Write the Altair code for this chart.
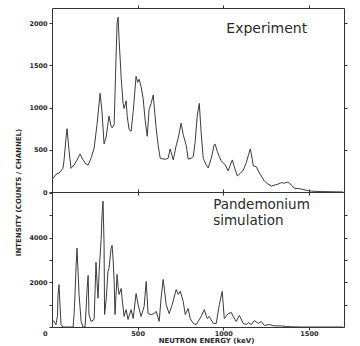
import altair as alt
import pandas as pd

# ---- Experiment spectrum (keV, counts/channel) ----
exp_kev = [0, 6, 23, 41, 64, 70, 82, 88, 99, 111, 129, 146, 164, 181, 199, 211, 228, 246, 263, 281,
           292, 304, 316, 333, 345, 351, 363, 374, 380, 386, 392, 404, 415, 421, 433, 439, 450, 462,
           474, 491, 500, 509, 520, 532, 544, 556, 567, 579, 591, 608, 620, 632, 649, 667, 678, 690,
           708, 725, 737, 754, 766, 784, 795, 813, 825, 836, 848, 860, 871, 883, 901, 912, 930, 947,
           953, 965, 977, 988, 1012, 1029, 1041, 1053, 1064, 1082, 1099, 1117, 1135, 1146, 1158,
           1170, 1175, 1193, 1211, 1228, 1240, 1257, 1281, 1304, 1322, 1339, 1357, 1374, 1386, 1404,
           1415, 1439, 1456, 1485, 1515, 1573, 1700]
exp_counts = [155, 160, 210, 225, 280, 370, 640, 750, 500, 280, 320, 380, 450, 380, 330, 320, 400, 520,
              800, 1170, 950, 570, 650, 900, 780, 760, 800, 1600, 2000, 2070, 1800, 1350, 1050, 990,
              1080, 900, 740, 720, 950, 1370, 1300, 1335, 1250, 1110, 850, 660, 980, 1050, 1150, 760,
              550, 400, 390, 390, 400, 510, 380, 550, 640, 815, 680, 550, 390, 400, 420, 600, 900, 1050,
              700, 400, 320, 285, 400, 560, 565, 480, 420, 370, 320, 250, 320, 380, 300, 190, 220, 260,
              350, 430, 510, 380, 310, 300, 225, 170, 130, 100, 70, 85, 95, 110, 105, 115, 105, 70, 45,
              40, 35, 20, 10, 5, 0]

# ---- Pandemonium simulation spectrum ----
sim_kev = [0, 12, 23, 32, 35, 41, 47, 53, 64, 123, 129, 135, 140, 146, 152, 158, 170, 181, 193, 199,
           205, 211, 216, 228, 246, 251, 257, 263, 269, 275, 287, 292, 298, 304, 307, 316, 327, 333,
           345, 351, 357, 363, 368, 380, 386, 392, 404, 409, 421, 433, 444, 462, 474, 491, 503, 520,
           538, 550, 561, 579, 597, 608, 626, 637, 649, 667, 684, 702, 725, 737, 749, 766, 778, 795,
           807, 825, 842, 871, 889, 906, 918, 942, 959, 977, 994, 1006, 1029, 1047, 1058, 1076, 1094,
           1117, 1135, 1146, 1164, 1181, 1205, 1222, 1240, 1269, 1298, 1339, 1368, 1398, 1456, 1700]
sim_counts = [300, 250, 100, 500, 1400, 1900, 900, 100, 0, 0, 560, 1600, 2600, 3530, 2500, 1460, 250,
              0, 0, 800, 1730, 2310, 560, 250, 340, 1500, 2900, 2000, 1290, 2490, 3930, 5000, 5640,
              3700, 560, 1200, 2490, 2630, 3530, 3660, 3000, 2040, 560, 2360, 1780, 1460, 1730, 1300,
              470, 780, 340, 780, 380, 1500, 1000, 470, 920, 2040, 600, 560, 600, 700, 250, 1290, 2130,
              1000, 600, 1000, 1680, 1460, 1600, 1150, 560, 830, 380, 160, 110, 470, 780, 380, 470, 160,
              160, 1000, 1600, 380, 600, 650, 470, 250, 520, 160, 110, 200, 110, 290, 160, 250, 70, 110,
              50, 50, 20, 10, 0, 0]

x_ticks = [500, 1000, 1500]
exp_y_ticks = [0, 500, 1000, 1500, 2000]
sim_y_ticks = [0, 1000, 2000, 3000, 4000, 5000, 6000]

exp_note = pd.DataFrame({"kev": [1018], "counts": [1880], "label": ["Experiment"]})
sim_note = pd.DataFrame({"kev": [941, 941], "counts": [5270, 4590],
                         "label": ["Pandemonium", "simulation"]})

LINE = "#3c3c3c"
INK = "#2a2a2a"
FONT = "DejaVu Sans"

xs = alt.Scale(domain=[0, 1705], nice=False, zero=False)
ys_exp = alt.Scale(domain=[0, 2180], nice=False)
ys_sim = alt.Scale(domain=[0, 6050], nice=False)

tick_only = dict(labels=False, title=None, domain=False, grid=False, tickSize=3)

exp_df = pd.DataFrame({"kev": exp_kev, "counts": exp_counts})
sim_df = pd.DataFrame({"kev": sim_kev, "counts": sim_counts})

exp_line = alt.Chart(exp_df).mark_line(color=LINE, strokeWidth=1).encode(
    x=alt.X("kev:Q", scale=xs, axis=alt.Axis(orient="top", values=x_ticks, **tick_only)),
    y=alt.Y("counts:Q", scale=ys_exp,
            axis=alt.Axis(orient="left", values=exp_y_ticks, tickSize=3, labelPadding=2,
                          domain=False, grid=False, format="d",
                          title="INTENSITY (COUNTS / CHANNEL)", titleX=-34, titleY=184,
                          titleAngle=270, titleAlign="center", titleBaseline="middle")),
)
exp_text = alt.Chart(exp_note).mark_text(
    align="left", baseline="alphabetic", font=FONT, fontSize=14, color=INK
).encode(
    x=alt.X("kev:Q", scale=xs, axis=alt.Axis(orient="bottom", values=x_ticks, **tick_only)),
    y=alt.Y("counts:Q", scale=ys_exp, axis=alt.Axis(orient="right", values=exp_y_ticks[1:], **tick_only)),
    text="label:N",
)
top = alt.layer(exp_line, exp_text).resolve_axis(x="independent", y="independent").properties(
    width=292, height=184)

sim_line = alt.Chart(sim_df).mark_line(color=LINE, strokeWidth=1).encode(
    x=alt.X("kev:Q", scale=xs,
            axis=alt.Axis(orient="bottom", values=x_ticks, tickSize=3, labelPadding=0,
                          domain=False, grid=False, format="d", title="NEUTRON ENERGY (keV)",
                          titlePadding=0, titleX=154)),
    y=alt.Y("counts:Q", scale=ys_sim,
            axis=alt.Axis(orient="left", values=sim_y_ticks, tickSize=3, labelPadding=2,
                          domain=False, grid=False, title=None, format="d",
                          labelExpr="(datum.value == 0 || datum.value == 2000 || datum.value == 4000) ? datum.label : ''",
                          labelOffset={"condition": {"test": "datum.value == 0", "value": 6}, "value": 0})),
)
sim_text = alt.Chart(sim_note).mark_text(
    align="left", baseline="alphabetic", font=FONT, fontSize=13.5, color=INK
).encode(
    x=alt.X("kev:Q", scale=xs, axis=alt.Axis(orient="top", values=x_ticks, **tick_only)),
    y=alt.Y("counts:Q", scale=ys_sim, axis=alt.Axis(orient="right", values=sim_y_ticks[1:-1], **tick_only)),
    text="label:N",
)
bottom = alt.layer(sim_line, sim_text).resolve_axis(x="independent", y="independent").properties(
    width=292, height=135)

chart = alt.vconcat(top, bottom, spacing=0, bounds="flush").properties(
    padding={"left": 13, "top": 4, "right": 5, "bottom": 2},
    background="white",
).configure_view(
    stroke="#333333", strokeWidth=1
).configure_axis(
    labelFont=FONT, labelFontSize=6.5, labelFontWeight="bold", labelColor=INK,
    titleFont=FONT, titleFontSize=7, titleFontWeight="bold", titleColor=INK,
    tickColor="#333333", tickWidth=1,
)

chart.save("out.html", embed_options={"renderer": "svg", "actions": False})
